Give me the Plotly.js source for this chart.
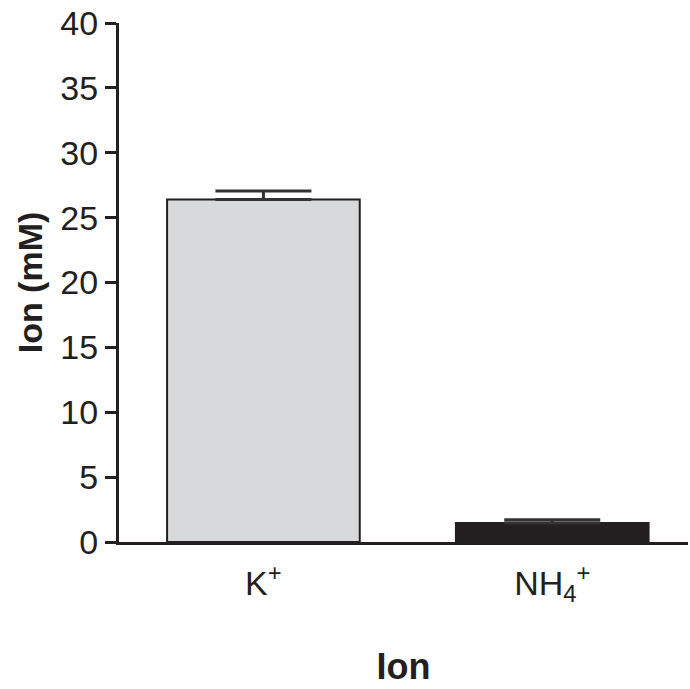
<!DOCTYPE html>
<html>
<head>
<meta charset="utf-8">
<script src="https://cdn.plot.ly/plotly-3.0.1.min.js"></script>
<style>html,body{margin:0;padding:0;background:#fff;}#chart{width:690px;height:689px;}</style>
</head>
<body>
<div id="chart"></div>
<script>
const categories = ['K<sup>+</sup>', 'NH<sub>4</sub><sup>+</sup>'];
const ionValues = [26.4, 1.47];
const ionErrors = [0.65, 0.25];
const barColors = ['#d8d9da', '#231f20'];
const yTickValues = [0, 5, 10, 15, 20, 25, 30, 35, 40];

const ink = '#231f20';
const font = 'Liberation Sans, Arial, Helvetica, sans-serif';

const trace = {
  type: 'bar',
  x: categories,
  y: ionValues,
  width: 0.667,
  marker: {color: barColors, line: {color: ink, width: 2}},
  error_y: {type: 'data', symmetric: false, array: ionErrors, arrayminus: [0, 0],
            color: '#333', thickness: 3, width: 48},
  hoverinfo: 'none'
};

const layout = {
  width: 690, height: 689,
  margin: {l: 119, r: 2, t: 23, b: 147},
  paper_bgcolor: '#fff', plot_bgcolor: '#fff',
  showlegend: false,
  font: {family: font, color: ink},
  xaxis: {
    range: [-0.5, 1.47],
    showline: true, linecolor: ink, linewidth: 3,
    ticks: 'outside', ticklen: 9, tickcolor: 'rgba(0,0,0,0)',
    showgrid: false, zeroline: false,
    tickfont: {size: 34, family: font, color: ink},
    title: {text: '<b>Ion</b>', font: {size: 36, family: font, color: ink}, standoff: 48}
  },
  yaxis: {
    range: [0, 40],
    tickvals: yTickValues,
    ticktext: yTickValues.map(String),
    showline: true, linecolor: ink, linewidth: 3,
    ticks: 'outside', ticklen: 11, tickwidth: 3, tickcolor: ink,
    showgrid: false, zeroline: false,
    tickfont: {size: 34, family: font, color: ink},
    title: {text: '<b>Ion (mM)</b>', font: {size: 34, family: font, color: ink}, standoff: 8}
  }
};

Plotly.newPlot('chart', [trace], layout, {displayModeBar: false, staticPlot: true});
</script>
</body>
</html>
